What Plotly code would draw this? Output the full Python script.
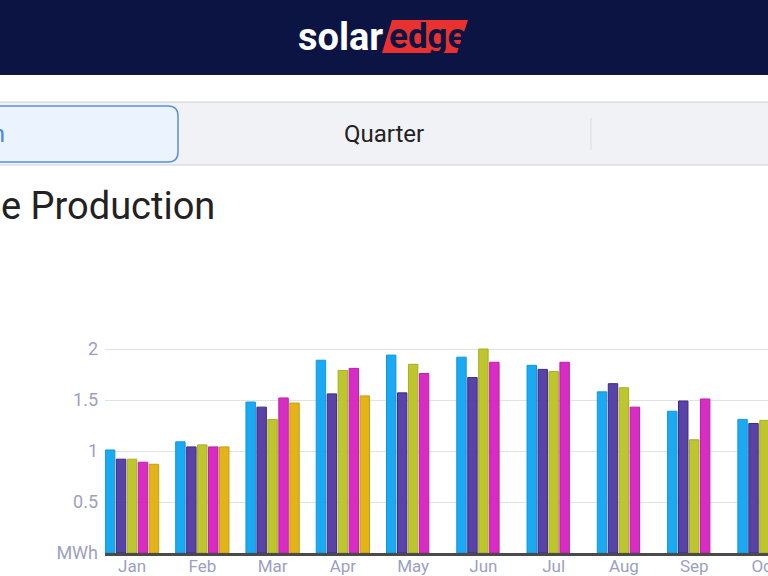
import plotly.graph_objects as go

months = ["Jan", "Feb", "Mar", "Apr", "May", "Jun", "Jul", "Aug", "Sep", "Oct"]
series_names = ["2020", "2021", "2022", "2023", "2024"]
s1 = [1.01, 1.09, 1.48, 1.89, 1.94, 1.92, 1.84, 1.58, 1.39, 1.31]
s2 = [0.92, 1.04, 1.43, 1.56, 1.57, 1.72, 1.80, 1.66, 1.49, 1.27]
s3 = [0.92, 1.06, 1.31, 1.79, 1.85, 2.00, 1.78, 1.62, 1.11, 1.30]
s4 = [0.89, 1.04, 1.52, 1.81, 1.76, 1.87, 1.87, 1.43, 1.51, None]
s5 = [0.87, 1.04, 1.47, 1.54, None, None, None, None, None, None]
ytick_vals = [0, 0.5, 1, 1.5, 2]
ytick_text = ["MWh", "0.5", "1", "1.5", "2"]

colors = ["#1aaaf4", "#5943a6", "#bec62d", "#d82cc5", "#e2b417"]
edge = ["#1596d8", "#3b2a86", "#a6ad20", "#b91fa8", "#c99e0c"]

W, H = 768, 576
L, R, T, B = 105, 0, 330, 23
PW, PH = W - L - R, H - T - B


def px(x):
    return (x - L) / PW


def py(y):
    return (H - B - y) / PH


fig = go.Figure()
for name, vals, c, e in zip(series_names, [s1, s2, s3, s4, s5], colors, edge):
    fig.add_trace(go.Bar(x=list(range(len(months))), y=vals, name=name,
                         marker=dict(color=c, line=dict(color=e, width=1))))

shapes = []
# header band
shapes.append(dict(type="rect", xref="paper", yref="paper", x0=px(-5), x1=px(W + 5), y0=py(75), y1=py(-5),
                   fillcolor="#0b1443", line=dict(width=0), layer="below"))
# red parallelogram of logo
pts = [(382, 53), (392, 20), (468, 20), (457, 53)]
path = "M " + " L ".join(f"{px(a):.5f},{py(b):.5f}" for a, b in pts) + " Z"
shapes.append(dict(type="path", xref="paper", yref="paper", path=path,
                   fillcolor="#e9322f", line=dict(width=0)))
# tab bar
shapes.append(dict(type="rect", xref="paper", yref="paper", x0=px(-5), x1=px(W + 5), y0=py(165), y1=py(102),
                   fillcolor="#f1f2f6", line=dict(color="#d0d0d4", width=1), layer="below"))
# selected tab rounded rect
x0, x1, y0, y1, r = -20, 178, 106, 162, 10
rp = [("M", [(x0 + r, y0)]), ("L", [(x1 - r, y0)]), ("Q", [(x1, y0), (x1, y0 + r)]),
      ("L", [(x1, y1 - r)]), ("Q", [(x1, y1), (x1 - r, y1)]), ("L", [(x0 + r, y1)]),
      ("Q", [(x0, y1), (x0, y1 - r)]), ("L", [(x0, y0 + r)]), ("Q", [(x0, y0), (x0 + r, y0)])]
path = " ".join(cmd + " " + " ".join(f"{px(a):.5f},{py(b):.5f}" for a, b in p) for cmd, p in rp) + " Z"
shapes.append(dict(type="path", xref="paper", yref="paper", path=path,
                   fillcolor="#ebf4fe", line=dict(color="#5b8fde", width=1.5)))
# separator
shapes.append(dict(type="line", xref="paper", yref="paper", x0=px(591), x1=px(591), y0=py(150), y1=py(118),
                   line=dict(color="#dcdce0", width=1)))

annotations = [
    dict(text="<b>solar</b>", x=px(296), y=py(37), xref="paper", yref="paper", xanchor="left", yanchor="middle",
         showarrow=False, font=dict(family="Roboto", size=38, color="white")),
    dict(text="<b>edge</b>", x=px(387), y=py(36), xref="paper", yref="paper", xanchor="left", yanchor="middle",
         showarrow=False, font=dict(family="Roboto", size=35, color="#0b1443")),
    dict(text="Month", x=px(7), y=py(134), xref="paper", yref="paper", xanchor="right", yanchor="middle",
         showarrow=False, font=dict(family="Roboto", size=24, color="#4a86e6")),
    dict(text="Quarter", x=px(384), y=py(134), xref="paper", yref="paper", xanchor="center", yanchor="middle",
         showarrow=False, font=dict(family="Roboto", size=24, color="#222222")),
    dict(text="e Production", x=px(-1), y=py(206), xref="paper", yref="paper", xanchor="left", yanchor="middle",
         showarrow=False, font=dict(family="Roboto", size=38, color="#222222")),
]

fig.update_layout(
    width=W, height=H,
    margin=dict(l=L, r=R, t=T, b=B, pad=0),
    paper_bgcolor="white", plot_bgcolor="white",
    barmode="group", bargap=0.22, bargroupgap=0.14,
    showlegend=False,
    shapes=shapes, annotations=annotations,
    font=dict(family="Roboto", color="#9c9fc4", size=16),
    xaxis=dict(range=[-0.385, 9.05], tickmode="array", tickvals=list(range(len(months))), ticktext=months,
               showgrid=False, showline=True, linecolor="#4a4a4a", linewidth=3, ticks="", zeroline=False,
               automargin=False, ticklabeloverflow="allow", ticklabelstandoff=-4,
               tickfont=dict(size=17, color="#9c9fc4")),
    yaxis=dict(range=[0, PH / 102.0], tickmode="array", tickvals=ytick_vals, ticktext=ytick_text,
               showgrid=True, gridcolor="#e2e2e2", gridwidth=1, zeroline=False, showline=False,
               automargin=False, ticklabelstandoff=6,
               ticks="", tickfont=dict(size=18, color="#9c9fc4")),
)

fig.write_html("out.html")
